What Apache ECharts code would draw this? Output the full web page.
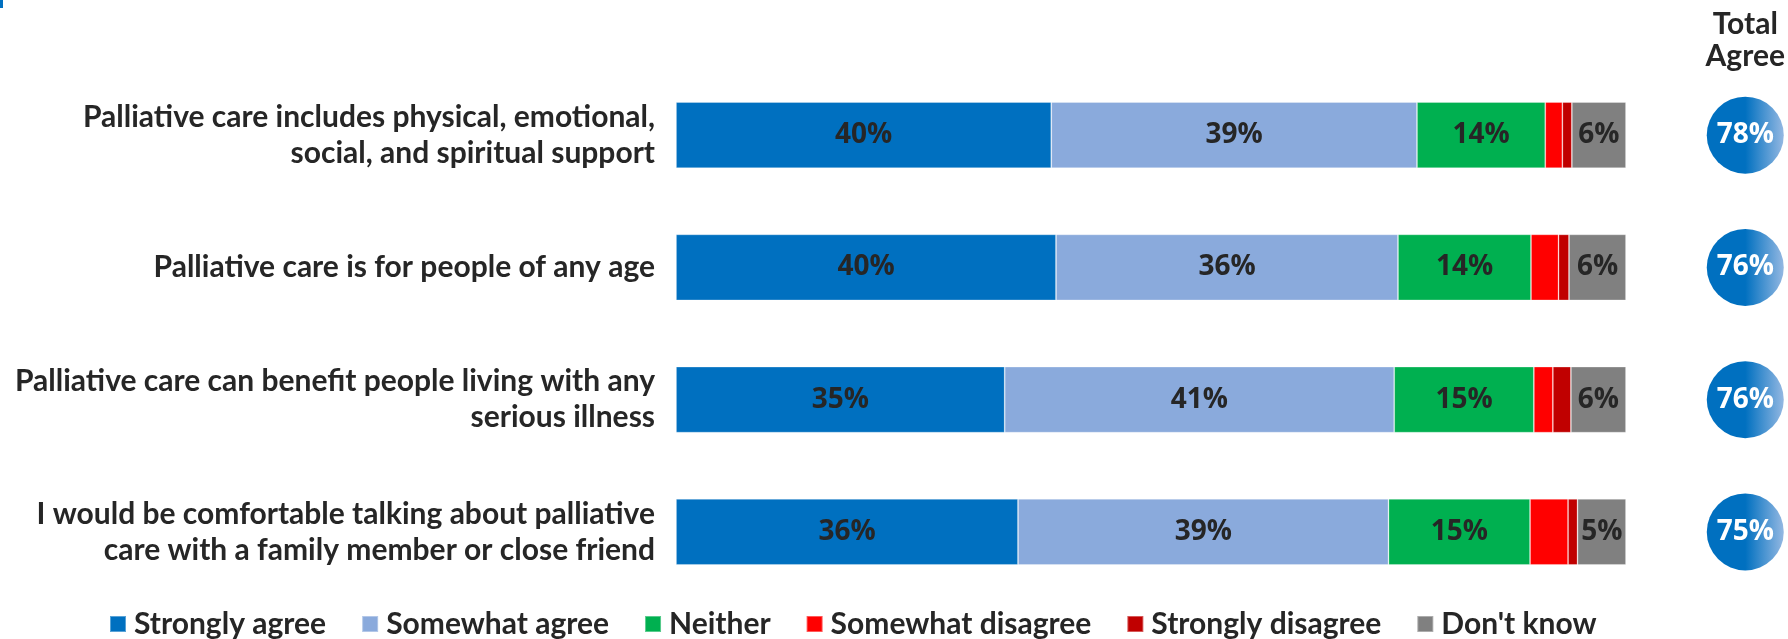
<!DOCTYPE html>
<html>
<head>
<meta charset="utf-8">
<title>Palliative care attitudes</title>
<script src="https://cdn.jsdelivr.net/npm/echarts@6/dist/echarts.min.js"></script>
<style>
  html, body { margin: 0; padding: 0; background: #ffffff; }
  #chart { width: 1788px; height: 639px; }
</style>
</head>
<body>
<div id="chart"></div>
<script>
// Statements (top to bottom)
const statements = [
  'Palliative care includes physical, emotional,\nsocial, and spiritual support',
  'Palliative care is for people of any age',
  'Palliative care can benefit people living with any\nserious illness',
  'I would be comfortable talking about palliative\ncare with a family member or close friend'
];

// Response shares, percent of respondents
const stronglyAgree    = [39.5, 40.0, 34.6, 36.0];
const somewhatAgree    = [38.5, 36.0, 41.0, 39.0];
const neither          = [13.5, 14.0, 14.7, 14.9];
const somewhatDisagree = [1.8, 2.9, 2.0, 4.0];
const stronglyDisagree = [1.0, 1.1, 1.9, 1.0];
const dontKnow         = [5.7, 6.0, 5.8, 5.1];

// Total agree (strongly + somewhat)
const totalAgree = [78, 76, 76, 75];
const totalHeader = ['Total\nAgree'];

const segments = [
  { name: 'Strongly agree',    data: stronglyAgree,    color: '#0070C0', label: true },
  { name: 'Somewhat agree',    data: somewhatAgree,    color: '#8AAADC', label: true },
  { name: 'Neither',           data: neither,          color: '#00B050', label: true },
  { name: 'Somewhat disagree', data: somewhatDisagree, color: '#FF0000', label: false },
  { name: 'Strongly disagree', data: stronglyDisagree, color: '#C00000', label: false },
  { name: "Don't know",        data: dontKnow,         color: '#808080', label: true }
];

const textDark = '#262626';
const catFont = 'Lato, "Open Sans", sans-serif';
const numFont = '"Open Sans", "Noto Sans", sans-serif';

const barSeries = segments.map(s => ({
  name: s.name,
  type: 'bar',
  stack: 'total',
  xAxisIndex: 0,
  yAxisIndex: 0,
  barWidth: 66,
  data: s.data,
  itemStyle: { color: s.color, borderColor: 'rgba(255,255,255,0.35)', borderWidth: 0.8 },
  label: {
    show: s.label,
    position: 'inside',
    color: textDark,
    fontFamily: numFont,
    fontWeight: 'bold',
    fontSize: 28,
    formatter: p => Math.round(p.value) + '%'
  },
  emphasis: { disabled: true }
}));

const chart = echarts.init(document.getElementById('chart'), null, { renderer: 'canvas' });

chart.setOption({
  animation: false,
  legend: {
    left: 104,
    top: 604,
    itemWidth: 16,
    itemHeight: 16,
    itemGap: 35,
    icon: 'rect',
    data: segments.map(s => s.name),
    textStyle: {
      color: textDark,
      fontFamily: catFont,
      fontWeight: 'bold',
      fontSize: 30,
      lineHeight: 30,
      padding: [0, 0, 0, 3]
    }
  },
  grid: [
    { left: 676, right: 162, top: 69, bottom: 41 },
    { left: 1709, right: 1, top: 69, bottom: 41 }
  ],
  xAxis: [
    { type: 'value', gridIndex: 0, min: 0, max: 100, show: false },
    {
      type: 'category', gridIndex: 1, position: 'top', data: totalHeader,
      axisLine: { show: false }, axisTick: { show: false }, splitLine: { show: false },
      axisLabel: {
        show: true, margin: -3, color: textDark, fontFamily: catFont,
        fontWeight: 'bold', fontSize: 30, lineHeight: 32
      }
    }
  ],
  yAxis: [
    {
      type: 'category', gridIndex: 0, inverse: true, data: statements,
      axisLine: { show: false }, axisTick: { show: false }, splitLine: { show: false },
      axisLabel: {
        margin: 21, align: 'right', color: textDark, fontFamily: catFont,
        fontWeight: 'bold', fontSize: 30, lineHeight: 36
      }
    },
    {
      type: 'category', gridIndex: 1, inverse: true, data: statements, show: false
    }
  ],
  series: barSeries.concat([{
    name: 'Total agree',
    type: 'scatter',
    xAxisIndex: 1,
    yAxisIndex: 1,
    symbol: 'circle',
    symbolSize: 77,
    data: totalAgree.map((v, i) => [0, i, v]),
    itemStyle: {
      opacity: 1,
      color: new echarts.graphic.LinearGradient(0, 0, 1, 0, [
        { offset: 0, color: '#0070C0' },
        { offset: 0.5, color: '#0070C0' },
        { offset: 1, color: '#94B8E2' }
      ])
    },
    label: {
      show: true,
      position: 'inside',
      color: '#ffffff',
      fontFamily: numFont,
      fontWeight: 'bold',
      fontSize: 28,
      formatter: p => p.value[2] + '%'
    },
    emphasis: { disabled: true }
  }]),
  graphic: [
    { type: 'rect', left: 0, top: 0, shape: { width: 3, height: 8 }, style: { fill: '#0070C0' } }
  ]
});
</script>
</body>
</html>
